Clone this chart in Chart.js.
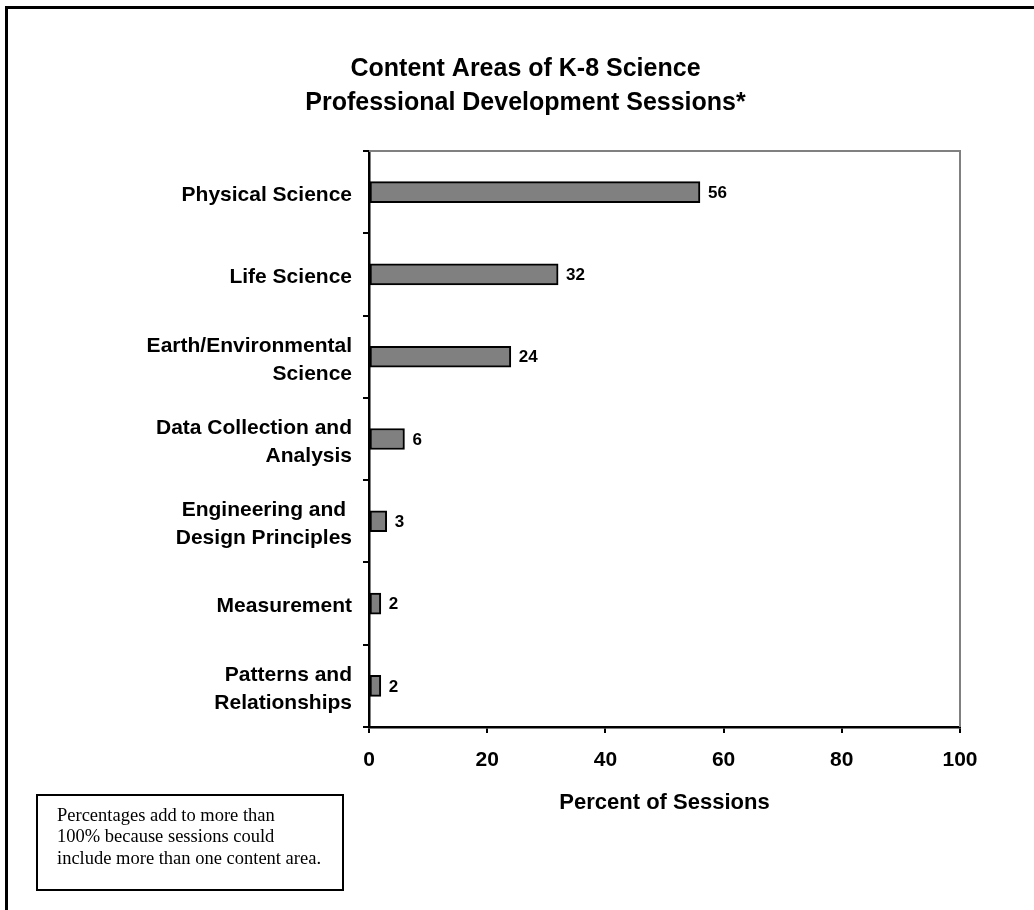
<!DOCTYPE html>
<html>
<head>
<meta charset="utf-8">
<script src="https://cdn.jsdelivr.net/npm/chart.js@4.4.0/dist/chart.umd.min.js"></script>
<style>
  body { margin: 0; background: #fff; overflow: hidden; }
  #frame { position: absolute; left: 5px; top: 6px; right: -10px; bottom: -10px;
           border-left: 3px solid #000; border-top: 3px solid #000; }
  #chartCanva { position: absolute; left: 0; top: 0; }
  #note { position: absolute; left: 36px; top: 794px; width: 285px; height: 84px;
          border: 2px solid #000; padding: 9px 0 0 19px;
          font-family: "Liberation Serif", "Times New Roman", serif; font-size: 18.5px;
          line-height: 21.3px; color: #000; }
</style>
</head>
<body>
<div id="frame"></div>
<canvas id="chartCanva" width="1034" height="910"></canvas>
<div id="note">Percentages add to more than<br>100% because sessions could<br>include more than one content area.</div>
<script>
let arrLabels = [
    "Physical Science",
    "Life Science",
    ["Earth/Environmental", "Science"],
    ["Data Collection and", "Analysis"],
    ["Engineering and ", "Design Principles"],
    "Measurement",
    ["Patterns and", "Relationships"]
]
let arrValues = [56, 32, 24, 6, 3, 2, 2]
let arrTicks = [0, 20, 40, 60, 80, 100]

const fontFamily = '"Liberation Sans", Arial, sans-serif'

// gray frame on top and right of the plot
const plotFrame = {
    id: 'plotFrame',
    afterDraw(chart) {
        const {ctx, chartArea: a} = chart
        ctx.save()
        ctx.strokeStyle = '#808080'
        ctx.lineWidth = 2
        ctx.beginPath()
        ctx.moveTo(a.left, a.top)
        ctx.lineTo(a.right, a.top)
        ctx.lineTo(a.right, a.bottom)
        ctx.stroke()
        ctx.restore()
    }
}

// numbers at the end of the bars
const barValues = {
    id: 'barValues',
    afterDatasetsDraw(chart) {
        const ctx = chart.ctx
        const meta = chart.getDatasetMeta(0)
        ctx.save()
        ctx.font = 'bold 17px ' + fontFamily
        ctx.fillStyle = '#000'
        ctx.textAlign = 'left'
        ctx.textBaseline = 'middle'
        meta.data.forEach((bar, i) => {
            ctx.fillText(chart.data.datasets[0].data[i], bar.x + 8, bar.y + 1)
        })
        ctx.restore()
    }
}

const data = {
    labels: arrLabels,
    datasets: [{
        data: arrValues,
        backgroundColor: '#808080',
        borderColor: '#000',
        borderWidth: 2,
        borderSkipped: false,
        barThickness: 21
    }]
}

const config = {
    type: 'bar',
    data: data,
    options: {
        indexAxis: 'y',
        responsive: false,
        animation: false,
        devicePixelRatio: 1,
        layout: { padding: { left: 91, right: 74, top: 0, bottom: 0 } },
        plugins: {
            legend: { display: false },
            tooltip: { enabled: false },
            title: {
                display: true,
                text: ['Content Areas of K-8 Science', 'Professional Development Sessions*'],
                color: '#000',
                font: { family: fontFamily, size: 25, weight: 'bold', lineHeight: '34px' },
                padding: { top: 52, bottom: 31 }
            }
        },
        scales: {
            x: {
                min: 0,
                max: 100,
                afterFit: (scale) => { scale.height = 183 },
                afterBuildTicks: (scale) => { scale.ticks = arrTicks.map(v => ({ value: v })) },
                border: { color: '#000', width: 2.5 },
                grid: { drawOnChartArea: false, drawTicks: true, tickLength: 6, color: '#000', lineWidth: 2 },
                ticks: {
                    color: '#000',
                    padding: 15,
                    maxRotation: 0,
                    font: { family: fontFamily, size: 21, weight: 'bold' }
                },
                title: {
                    display: true,
                    text: 'Percent of Sessions',
                    color: '#000',
                    font: { family: fontFamily, size: 22, weight: 'bold' },
                    padding: { top: 0, bottom: 94 }
                }
            },
            y: {
                afterFit: (scale) => { scale.width = 278 },
                border: { color: '#000', width: 2.5 },
                grid: { offset: true, drawOnChartArea: false, drawTicks: true, tickLength: 6, color: '#000', lineWidth: 2 },
                ticks: {
                    color: '#000',
                    padding: 11,
                    labelOffset: 3,
                    autoSkip: false,
                    font: { family: fontFamily, size: 21, weight: 'bold', lineHeight: '28px' }
                }
            }
        }
    },
    plugins: [plotFrame, barValues]
}

myChart = new Chart(document.getElementById('chartCanva'), config)
</script>
</body>
</html>
